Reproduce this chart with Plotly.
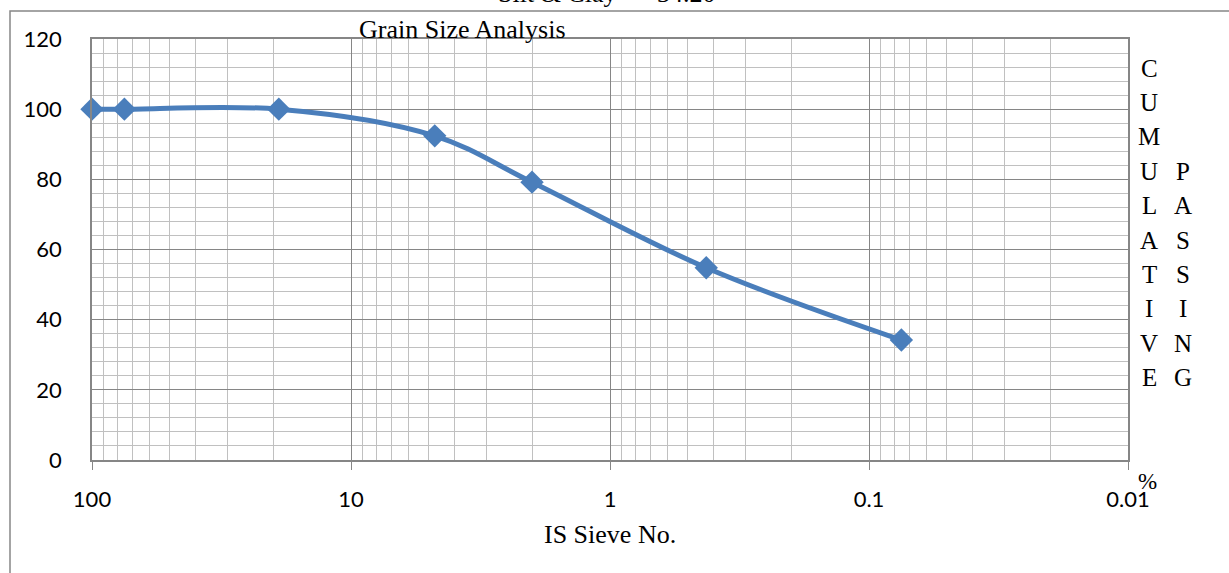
import plotly.graph_objects as go

# Data
sieve_mm = [100, 75, 19, 4.75, 2, 0.425, 0.075]
passing_pct = [100, 100, 100, 92.4, 79.2, 54.8, 34.2]

x_tick_vals = [100, 10, 1, 0.1, 0.01]
x_tick_text = ["100", "10", "1", "0.1", "0.01"]
left_letters = list("CUMULATIVE")
right_letters = list("PASSING")

title_text = "Grain Size Analysis"
x_title = "IS Sieve No."
top_note = "Silt & Clay   = 34.20"

W, H = 1229, 573
L, R, T, B = 92, 101, 39, 113
ph = H - T - B
pw = W - L - R

def py(ypx):
    return (H - B - ypx) / ph

def px(xpx):
    return (xpx - L) / pw

blue = "#4A7EBB"
major = "#868686"
minor = "#C0C0C0"
serif = "Liberation Serif, Times New Roman, serif"
sans = "Lato, Open Sans, sans-serif"

fig = go.Figure()
fig.add_trace(go.Scatter(
    x=sieve_mm, y=passing_pct, mode="lines+markers",
    line=dict(color=blue, width=5, shape="spline", smoothing=1),
    marker=dict(symbol="diamond", size=18, color=blue, line=dict(width=0)),
    showlegend=False, cliponaxis=False,
))

annotations = [
    dict(text=title_text, xref="paper", yref="paper", x=px(357), y=py(30),
         xanchor="left", yanchor="middle", showarrow=False,
         font=dict(family=serif, size=26, color="black")),
    dict(text=x_title, xref="paper", yref="paper", x=px(610), y=py(534),
         xanchor="center", yanchor="middle", showarrow=False,
         font=dict(family=serif, size=26, color="black")),
    dict(text=top_note, xref="paper", yref="paper", x=px(607), y=py(-7),
         xanchor="center", yanchor="middle", showarrow=False,
         font=dict(family=serif, size=26, color="black")),
    dict(text="%", xref="paper", yref="paper", x=px(1147), y=py(481),
         xanchor="center", yanchor="middle", showarrow=False,
         font=dict(family=serif, size=23, color="black")),
]
for i, ch in enumerate(left_letters):
    annotations.append(dict(text=ch, xref="paper", yref="paper",
                            x=px(1149), y=py(68 + 34.4 * i),
                            xanchor="center", yanchor="middle", showarrow=False,
                            font=dict(family=serif, size=25, color="black")))
for i, ch in enumerate(right_letters):
    annotations.append(dict(text=ch, xref="paper", yref="paper",
                            x=px(1183), y=py(68 + 34.4 * (i + 3)),
                            xanchor="center", yanchor="middle", showarrow=False,
                            font=dict(family=serif, size=25, color="black")))

fig.update_layout(
    width=W, height=H,
    margin=dict(l=L, r=R, t=T, b=B, pad=0),
    paper_bgcolor="white", plot_bgcolor="white",
    annotations=annotations,
    shapes=[dict(type="rect", xref="paper", yref="paper",
                 x0=px(10), y0=-0.5, x1=1.3, y1=py(11),
                 line=dict(color="#878787", width=1.5), layer="below")],
    xaxis=dict(
        type="log", range=[2, -2],
        tickmode="array", tickvals=x_tick_vals, ticktext=x_tick_text,
        showgrid=True, gridcolor=major, gridwidth=1.4,
        minor=dict(showgrid=True, gridcolor=minor, gridwidth=1.4, dtick="D1", ticks=""),
        ticks="outside", ticklen=8, tickcolor=major, tickwidth=1.4,
        ticklabelstandoff=11,
        showline=True, linecolor=major, linewidth=1.5, mirror=True,
        tickfont=dict(family=sans, size=22, color="black"),
        zeroline=False,
    ),
    yaxis=dict(
        range=[0, 120], dtick=20, tick0=0,
        showgrid=True, gridcolor=major, gridwidth=1.4,
        minor=dict(showgrid=True, gridcolor=minor, gridwidth=1.4, dtick=4),
        ticks="", ticklabelstandoff=24,
        showline=True, linecolor=major, linewidth=1.5, mirror=True,
        tickfont=dict(family=sans, size=22, color="black"),
        zeroline=False,
    ),
)

fig.write_html("out.html")
